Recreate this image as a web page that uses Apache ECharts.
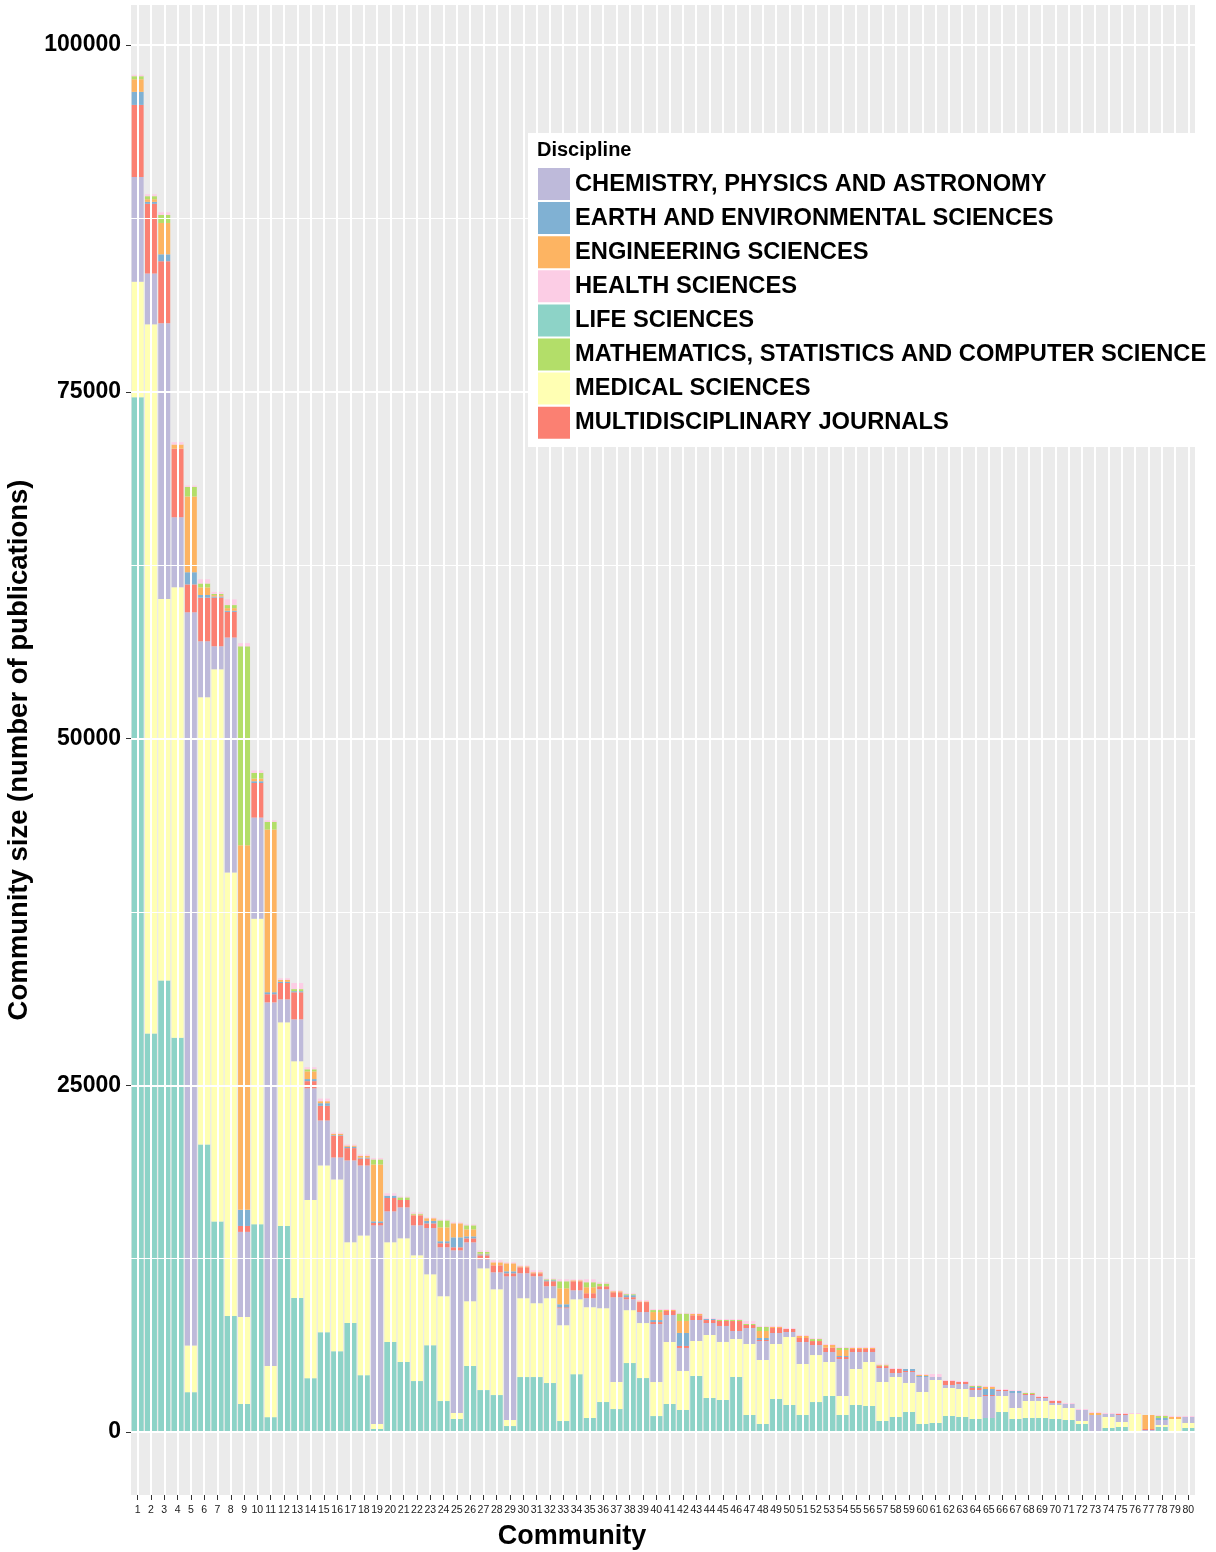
<!DOCTYPE html>
<html><head><meta charset="utf-8">
<script src="https://cdn.jsdelivr.net/npm/echarts@6/dist/echarts.min.js"></script>
<style>html,body{margin:0;padding:0;background:#fff}#c{width:1216px;height:1552px}</style>
</head><body><div id="c"></div>
<script>
const communities = ['1','2','3','4','5','6','7','8','9','10','11','12','13','14','15','16','17','18','19','20',
'21','22','23','24','25','26','27','28','29','30','31','32','33','34','35','36','37','38','39','40',
'41','42','43','44','45','46','47','48','49','50','51','52','53','54','55','56','57','58','59','60',
'61','62','63','64','65','66','67','68','69','70','71','72','73','74','75','76','77','78','79','80'];

const lifeSciences = [74600,28740,32560,28430,2870,20735,15170,8360,2020,14980,1070,14860,9660,3880,7200,5830,7850,4100,220,6480,
5040,3670,6260,2230,940,4750,3020,2660,430,3960,3960,3530,790,4170,1010,2160,1655,4970,3890,1150,
2020,1590,4040,2450,2310,3965,1225,577,2380,1946,1225,2160,2595,1226,1946,1874,793,1081,1442,577,
649,1153,1081,937,1009,1442,937,1009,1009,937,865,577,0,288,360,72,0,360,72,288];
const medicalSciences = [8330,51120,27490,32475,3360,32240,39820,31970,6263,22020,3690,14674,17070,12840,12020,12380,5830,10075,360,7200,
8925,9070,5110,7560,430,4678,8780,7630,432,5686,5326,6117,6909,5398,7988,6765,1944,3814,3965,2452,
4469,2812,2523,4542,4181,2739,5118,4613,3965,4903,3676,3388,2451,1369,2596,3172,2812,2884,2090,2307,
3100,2019,2019,1586,0,1153,793,1226,1226,1009,865,216,72,793,361,1226,0,145,865,361];
const chemistryPhysicsAstronomy = [7560,3670,19890,5050,52870,4036,1660,16950,6147,7300,26214,1660,3023,8060,3240,1583,5900,5040,14320,2230,
2230,2160,3335,3530,11730,4246,650,1223,10363,1800,1943,863,1223,648,648,1368,6117,792,793,4181,
1947,1658,1514,865,1154,577,1153,1370,793,360,1586,721,721,2668,1225,721,1009,288,793,1081,
216,216,360,505,1586,361,1082,432,216,145,289,793,1154,217,505,0,144,360,0,432];
const multidisciplinaryJournals = [5190,5020,4470,4940,2010,3145,3508,1850,425,2490,590,1180,1950,516,1056,1560,890,500,170,960,
530,720,336,290,216,288,290,504,216,430,216,360,72,650,360,216,360,144,720,144,
288,144,337,216,360,720,217,72,360,216,290,288,313,144,217,217,140,288,72,0,
0,288,144,144,72,72,0,72,72,144,0,0,0,0,72,0,72,0,0,0];
const earthEnvironmentalSciences = [940,140,500,0,880,190,80,80,1160,130,147,80,80,150,190,50,90,70,120,170,
0,0,180,144,720,144,70,0,144,0,0,70,216,0,0,0,0,144,0,144,
0,937,0,72,0,0,0,144,0,0,0,0,0,72,0,0,0,0,145,72,
0,0,0,72,433,0,144,0,0,0,0,0,0,0,0,0,0,144,0,0];
const engineeringSciences = [910,190,2260,300,5460,550,100,190,26290,190,11725,150,0,555,144,100,90,120,4100,0,
0,60,190,1000,1010,504,50,216,576,70,72,0,1152,70,432,0,72,0,50,577,
72,865,96,0,0,0,0,505,72,0,144,0,192,432,72,72,48,0,0,72,
0,0,0,0,144,0,0,0,0,0,0,0,144,0,0,0,1010,0,144,0];
const mathStatsComputerScience = [220,220,580,0,690,280,80,220,14340,415,553,0,150,150,0,0,0,0,360,0,
190,60,0,500,0,290,120,0,0,0,0,70,504,0,360,192,0,72,0,144,
0,530,0,0,72,72,72,290,0,0,0,145,0,145,0,0,48,0,0,0,
0,0,0,72,0,0,0,72,0,0,0,0,0,0,0,0,0,144,0,0];
const healthSciences = [100,140,190,170,100,300,150,410,230,170,110,110,440,150,190,80,80,100,100,170,
70,100,60,70,70,72,120,144,72,70,144,70,144,70,215,96,72,72,100,72,
72,50,72,72,72,72,216,72,72,72,72,72,72,72,72,72,72,72,0,72,
216,72,72,72,72,72,72,50,72,72,72,72,72,72,72,72,0,72,72,72];

const yTickValues = [0, 25000, 50000, 75000, 100000];
const yMinorValues = [12500, 37500, 62500, 87500];

const disciplineNames = {
  chem: 'CHEMISTRY, PHYSICS AND ASTRONOMY',
  earth: 'EARTH AND ENVIRONMENTAL SCIENCES',
  eng: 'ENGINEERING SCIENCES',
  health: 'HEALTH SCIENCES',
  life: 'LIFE SCIENCES',
  math: 'MATHEMATICS, STATISTICS AND COMPUTER SCIENCE',
  med: 'MEDICAL SCIENCES',
  multi: 'MULTIDISCIPLINARY JOURNALS'
};
const colors = {
  chem:'#BEBADA', earth:'#80B1D3', eng:'#FDB462', health:'#FCCDE5',
  life:'#8DD3C7', math:'#B3DE69', med:'#FFFFB3', multi:'#FB8072'
};
// bottom to top stacking order
const stackOrder = [
  ['life', lifeSciences], ['med', medicalSciences], ['chem', chemistryPhysicsAstronomy],
  ['multi', multidisciplinaryJournals], ['earth', earthEnvironmentalSciences],
  ['eng', engineeringSciences], ['math', mathStatsComputerScience], ['health', healthSciences]
];

const FONT = 'Liberation Sans, Arial, Helvetica, sans-serif';
const gridMarks = [];
yTickValues.forEach(v => gridMarks.push({yAxis: v, lineStyle:{color:'#ffffff', width:2, type:'solid'}}));
yMinorValues.forEach(v => gridMarks.push({yAxis: v, lineStyle:{color:'#ffffff', width:1, type:'solid'}}));
communities.forEach((c, i) => gridMarks.push({xAxis: i, lineStyle:{color:'#ffffff', width:2, type:'solid'}}));

const series = [{
  type:'line', name:'__grid', data:[], z:1, silent:true, animation:false,
  markLine:{silent:true, symbol:['none','none'], label:{show:false}, animation:false, data:gridMarks}
}];
stackOrder.forEach(([k, arr]) => {
  series.push({
    type:'bar', name:disciplineNames[k], stack:'total', data:arr, z:2,
    barCategoryGap:'10%', itemStyle:{color:colors[k]}, emphasis:{disabled:true}
  });
});

const chart = echarts.init(document.getElementById('c'), null, {renderer:'canvas'});
chart.setOption({
  animation:false,
  backgroundColor:'#ffffff',
  grid:{left:131, top:5, width:1064, height:1490, show:true, backgroundColor:'#EBEBEB', borderWidth:0,
        containLabel:false, outerBoundsMode:'none'},
  xAxis:{
    type:'category', data:communities,
    axisLine:{show:false, onZero:false},
    axisTick:{show:true, alignWithLabel:true, interval:0, length:5, lineStyle:{color:'#333333', width:1}},
    axisLabel:{interval:0, fontSize:10.5, color:'#1a1a1a', margin:10, fontFamily:FONT},
    splitLine:{show:false}
  },
  yAxis:{
    type:'value', min:-4542, max:102884,
    axisLine:{show:false},
    axisTick:{show:true, length:5, lineStyle:{color:'#333333', width:1}, customValues:yTickValues},
    axisLabel:{fontSize:23, fontWeight:'bold', color:'#000', margin:10, fontFamily:FONT,
               customValues:yTickValues, formatter:function(v){return String(v);}},
    splitLine:{show:false},
    name:'Community size (number of publications)', nameLocation:'middle', nameRotate:90, nameGap:93,
    nameTextStyle:{fontSize:27.5, fontWeight:'bold', color:'#000', fontFamily:FONT}
  },
  legend:{
    data:[disciplineNames.chem, disciplineNames.earth, disciplineNames.eng, disciplineNames.health,
          disciplineNames.life, disciplineNames.math, disciplineNames.med, disciplineNames.multi],
    orient:'vertical', left:538, top:168, itemWidth:32, itemHeight:32, itemGap:2.1, icon:'rect',
    selectedMode:false, z:20, padding:0,
    textStyle:{fontSize:23.7, fontWeight:'bold', color:'#000', fontFamily:FONT}
  },
  graphic:[
    {type:'rect', shape:{x:528, y:133, width:682, height:314}, style:{fill:'#ffffff'}, z:10, silent:true},
    {type:'text', left:537, top:140, z:21, style:{text:'Discipline', font:'bold 20px ' + FONT, fill:'#000'}},
    {type:'text', x:572, y:1537, z:21, style:{text:'Community', font:'bold 27px ' + FONT, fill:'#000', align:'center', verticalAlign:'middle'}}
  ],
  series:series
});
</script>
</body></html>
